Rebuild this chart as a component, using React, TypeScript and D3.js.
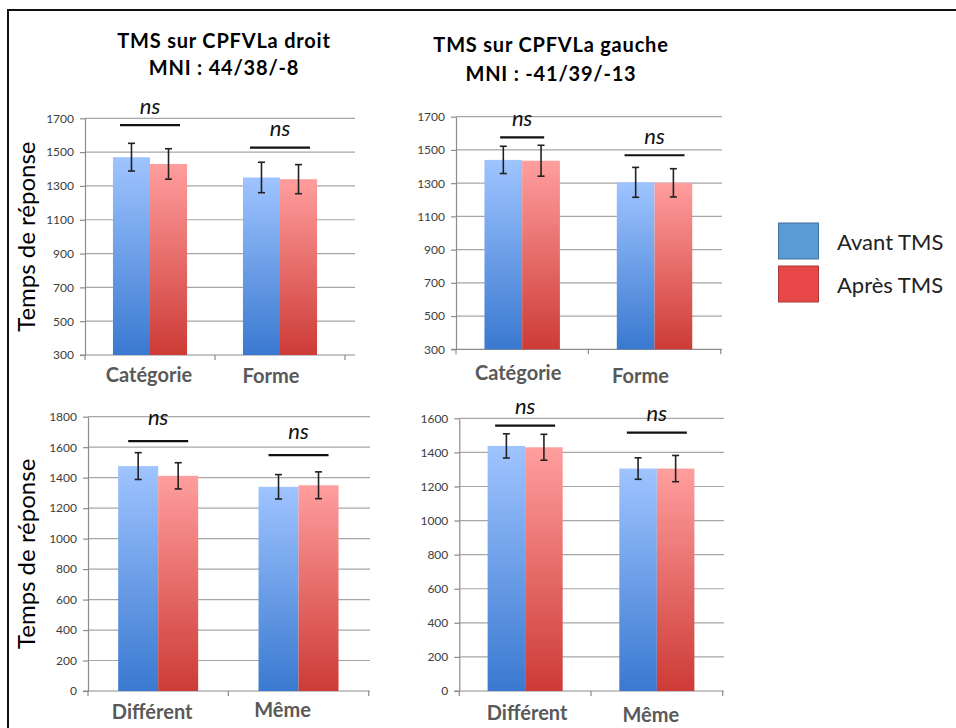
import { useEffect, useRef } from "react";
import * as d3 from "d3";

// Catégories et séries
const catsTop = ["Catégorie", "Forme"];
const catsBottom = ["Différent", "Même"];
const seriesNames = ["Avant TMS", "Après TMS"];

// TMS droit - Catégorie / Forme
const droitTopAvant = [1470, 1350];
const droitTopApres = [1430, 1340];
const droitTopErrAvant = [82, 90];
const droitTopErrApres = [90, 86];
const droitTopNs = [1660, 1526];

// TMS gauche - Catégorie / Forme
const gaucheTopAvant = [1440, 1305];
const gaucheTopApres = [1435, 1302];
const gaucheTopErrAvant = [82, 90];
const gaucheTopErrApres = [93, 85];
const gaucheTopNs = [1575, 1468];

// TMS droit - Différent / Même
const droitBotAvant = [1476, 1340];
const droitBotApres = [1412, 1350];
const droitBotErrAvant = [88, 80];
const droitBotErrApres = [86, 88];
const droitBotNs = [1640, 1548];

// TMS gauche - Différent / Même
const gaucheBotAvant = [1438, 1305];
const gaucheBotApres = [1430, 1305];
const gaucheBotErrAvant = [71, 63];
const gaucheBotErrApres = [76, 77];
const gaucheBotNs = [1557, 1516];

// Graduations
const ticksTop = [300, 500, 700, 900, 1100, 1300, 1500, 1700];
const ticksBotLeft = [0, 200, 400, 600, 800, 1000, 1200, 1400, 1600, 1800];
const ticksBotRight = [0, 200, 400, 600, 800, 1000, 1200, 1400, 1600];

const titles = [
  ["TMS sur CPFVLa droit", "MNI : 44/38/-8"],
  ["TMS sur CPFVLa gauche", "MNI : -41/39/-13"],
];

const FONT = "Lato, 'Open Sans', sans-serif";

interface Panel {
  cats: string[];
  avant: number[];
  apres: number[];
  errAvant: number[];
  errApres: number[];
  ns: number[];
  nsWidth: number[];
  nsDy: number;
  ticks: number[];
  x0: number;
  x1: number;
  gridX1: number;
  y0: number;
  y1: number;
  yLabel: boolean;
  labelDx: number[];
  labelY: number[];
}

const panels: Panel[] = [
  {
    cats: catsTop, avant: droitTopAvant, apres: droitTopApres,
    errAvant: droitTopErrAvant, errApres: droitTopErrApres,
    ns: droitTopNs, nsWidth: [60, 60], nsDy: -19, ticks: ticksTop,
    x0: 85, x1: 345, gridX1: 355, y0: 355, y1: 118.3, yLabel: true,
    labelDx: [-1, -9], labelY: [382, 383],
  },
  {
    cats: catsTop, avant: gaucheTopAvant, apres: gaucheTopApres,
    errAvant: gaucheTopErrAvant, errApres: gaucheTopErrApres,
    ns: gaucheTopNs, nsWidth: [44, 60], nsDy: -19, ticks: ticksTop,
    x0: 456, x1: 720.7, gridX1: 722, y0: 349.3, y1: 116.7, yLabel: false,
    labelDx: [-4, -14], labelY: [380, 383],
  },
  {
    cats: catsBottom, avant: droitBotAvant, apres: droitBotApres,
    errAvant: droitBotErrAvant, errApres: droitBotErrApres,
    ns: droitBotNs, nsWidth: [60, 60], nsDy: -24, ticks: ticksBotLeft,
    x0: 88, x1: 368.7, gridX1: 370, y0: 691, y1: 416.7, yLabel: true,
    labelDx: [-6, -16], labelY: [719, 717],
  },
  {
    cats: catsBottom, avant: gaucheBotAvant, apres: gaucheBotApres,
    errAvant: gaucheBotErrAvant, errApres: gaucheBotErrApres,
    ns: gaucheBotNs, nsWidth: [60, 60], nsDy: -19, ticks: ticksBotRight,
    x0: 459.3, x1: 722.7, gridX1: 724, y0: 691, y1: 418.3, yLabel: false,
    labelDx: [2, -6], labelY: [720, 722],
  },
];

export default function App() {
  const svgRef = useRef<SVGSVGElement>(null);

  useEffect(() => {
    if (!svgRef.current) return;
    const svg = d3.select(svgRef.current);
    svg.selectAll("*").remove();

    // Dégradés des barres
    const defs = svg.append("defs");
    const grads = [
      { id: "grad-avant", top: "#9fc4ff", bottom: "#3a79d0" },
      { id: "grad-apres", top: "#ff9e9e", bottom: "#cd3b36" },
    ];
    grads.forEach((g) => {
      const lg = defs
        .append("linearGradient")
        .attr("id", g.id)
        .attr("x1", 0)
        .attr("y1", 0)
        .attr("x2", 0)
        .attr("y2", 1);
      lg.append("stop").attr("offset", "0%").attr("stop-color", g.top);
      lg.append("stop").attr("offset", "100%").attr("stop-color", g.bottom);
    });

    // Cadre
    svg.append("line").attr("x1", 7).attr("x2", 956).attr("y1", 10).attr("y2", 10)
      .attr("stroke", "#111").attr("stroke-width", 2);
    svg.append("line").attr("x1", 8).attr("x2", 8).attr("y1", 9).attr("y2", 728)
      .attr("stroke", "#111").attr("stroke-width", 2);

    // Titres
    const titleX = [224, 551];
    const titleY = [[48, 75], [52, 81]];
    titles.forEach((lines, i) => {
      lines.forEach((t, j) => {
        svg.append("text")
          .attr("x", titleX[i])
          .attr("y", titleY[i][j])
          .attr("text-anchor", "middle")
          .style("font-family", FONT)
          .style("font-weight", "bold")
          .style("font-size", "20px")
          .style("letter-spacing", "0.8px")
          .style("fill", "#000")
          .text(t);
      });
    });

    panels.forEach((p) => {
      const g = svg.append("g");
      const domain = [p.ticks[0], p.ticks[p.ticks.length - 1]];
      const y = d3.scaleLinear().domain(domain).range([p.y0, p.y1]);
      const x = d3.scaleBand<string>().domain(p.cats).range([p.x0, p.x1])
        .paddingInner(0.43).paddingOuter(0.215);
      const xs = d3.scaleBand<string>().domain(seriesNames).range([0, x.bandwidth()]);

      // Grille horizontale
      g.selectAll(".grid")
        .data(p.ticks.slice(1))
        .enter()
        .append("line")
        .attr("x1", p.x0)
        .attr("x2", p.gridX1)
        .attr("y1", (d) => y(d))
        .attr("y2", (d) => y(d))
        .attr("stroke", "#a6a6a6")
        .attr("stroke-width", 1.2);

      // Axe Y
      const yAxis = g.append("g")
        .attr("transform", `translate(${p.x0},0)`)
        .call(
          d3.axisLeft(y)
            .tickValues(p.ticks)
            .tickFormat(d3.format("d"))
            .tickSize(5)
            .tickSizeOuter(0)
            .tickPadding(6)
        );
      yAxis.select(".domain").attr("stroke", "#8c8c8c").attr("stroke-width", 1.2);
      yAxis.selectAll(".tick line").attr("stroke", "#8c8c8c").attr("stroke-width", 1.2);
      yAxis.selectAll("text")
        .style("font-family", FONT)
        .style("font-size", "12px")
        .style("fill", "#404040");

      // Axe X
      g.append("line")
        .attr("x1", p.x0 - 5)
        .attr("x2", p.gridX1)
        .attr("y1", p.y0)
        .attr("y2", p.y0)
        .attr("stroke", "#8c8c8c")
        .attr("stroke-width", 1.2);
      const midTicks = [p.x0, (p.x0 + p.x1) / 2, p.x1];
      g.selectAll(".xtick")
        .data(midTicks)
        .enter()
        .append("line")
        .attr("x1", (d) => d)
        .attr("x2", (d) => d)
        .attr("y1", p.y0)
        .attr("y2", p.y0 + 5)
        .attr("stroke", "#8c8c8c")
        .attr("stroke-width", 1.2);

      // Barres
      const rows = p.cats.flatMap((c, i) => [
        { cat: c, s: seriesNames[0], v: p.avant[i], e: p.errAvant[i], fill: "url(#grad-avant)" },
        { cat: c, s: seriesNames[1], v: p.apres[i], e: p.errApres[i], fill: "url(#grad-apres)" },
      ]);
      const bx = (d: { cat: string; s: string }) => (x(d.cat) || 0) + (xs(d.s) || 0);

      g.selectAll(".bar")
        .data(rows)
        .enter()
        .append("rect")
        .attr("x", (d) => bx(d))
        .attr("y", (d) => y(d.v))
        .attr("width", xs.bandwidth())
        .attr("height", (d) => p.y0 - y(d.v))
        .attr("fill", (d) => d.fill);

      // Barres d'erreur
      rows.forEach((d) => {
        const cx = bx(d) + xs.bandwidth() / 2;
        const eb = g.append("g").attr("stroke", "#222").attr("stroke-width", 1.6);
        eb.append("line").attr("x1", cx).attr("x2", cx).attr("y1", y(d.v + d.e)).attr("y2", y(d.v - d.e));
        eb.append("line").attr("x1", cx - 3.5).attr("x2", cx + 3.5).attr("y1", y(d.v + d.e)).attr("y2", y(d.v + d.e));
        eb.append("line").attr("x1", cx - 3.5).attr("x2", cx + 3.5).attr("y1", y(d.v - d.e)).attr("y2", y(d.v - d.e));
      });

      // Significativité
      p.cats.forEach((c, i) => {
        const cx = (x(c) || 0) + x.bandwidth() / 2;
        const ly = y(p.ns[i]);
        g.append("line")
          .attr("x1", cx - p.nsWidth[i] / 2)
          .attr("x2", cx + p.nsWidth[i] / 2)
          .attr("y1", ly)
          .attr("y2", ly)
          .attr("stroke", "#111")
          .attr("stroke-width", 2.2);
        g.append("text")
          .attr("x", cx)
          .attr("y", ly + p.nsDy)
          .attr("dy", "0.35em")
          .attr("text-anchor", "middle")
          .style("font-family", FONT)
          .style("font-style", "italic")
          .style("font-size", "22px")
          .style("fill", "#111")
          .text("ns");

        // Libellés catégories
        g.append("text")
          .attr("x", cx + p.labelDx[i])
          .attr("y", p.labelY[i])
          .attr("text-anchor", "middle")
          .style("font-family", FONT)
          .style("font-weight", "bold")
          .style("font-size", "20px")
          .style("fill", "#595959")
          .text(c);
      });

      // Titre de l'axe Y
      if (p.yLabel) {
        const cy = (p.y0 + p.y1) / 2;
        g.append("text")
          .attr("transform", `translate(27,${cy}) rotate(-90)`)
          .attr("text-anchor", "middle")
          .attr("dy", "0.35em")
          .style("font-family", FONT)
          .style("font-size", "24px")
          .style("fill", "#000")
          .text("Temps de réponse");
      }
    });

    // Légende
    const legendColors = [
      { fill: "#5b9bd5", stroke: "#41719c" },
      { fill: "#e94848", stroke: "#a83a3a" },
    ];
    seriesNames.forEach((s, i) => {
      const ly = 223 + i * 43;
      svg.append("rect")
        .attr("x", 778.5)
        .attr("y", ly)
        .attr("width", 40)
        .attr("height", 36)
        .attr("fill", legendColors[i].fill)
        .attr("stroke", legendColors[i].stroke)
        .attr("stroke-width", 1);
      svg.append("text")
        .attr("x", 837)
        .attr("y", ly + 19)
        .attr("dy", "0.35em")
        .style("font-family", FONT)
        .style("font-size", "22px")
        .style("fill", "#222")
        .text(s);
    });
  }, []);

  return (
    <svg
      ref={svgRef}
      width={956}
      height={728}
      style={{ position: "absolute", left: 0, top: 0, background: "#fff" }}
    />
  );
}
